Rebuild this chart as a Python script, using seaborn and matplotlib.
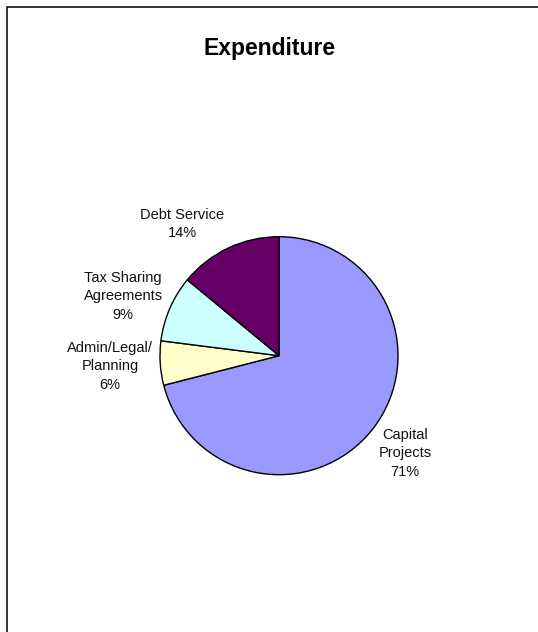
import matplotlib
matplotlib.use("Agg")
import matplotlib.pyplot as plt
import seaborn as sns
from matplotlib.patches import Rectangle

categories = ["Capital\nProjects", "Admin/Legal/\nPlanning", "Tax Sharing\nAgreements", "Debt Service"]
shares = [71, 6, 9, 14]
colors = ["#9999FF", "#FFFFCC", "#CCFFFF", "#660066"]

# label anchor points, in units of the pie radius
label_pos = [(1.06, -0.82), (-1.42, -0.09), (-1.31, 0.50), (-0.815, 1.107)]

sns.set_theme(style="white")
plt.rcParams["font.family"] = ["Liberation Sans", "DejaVu Sans"]

W, H = 538, 632
fig = plt.figure(figsize=(W / 100, H / 100), dpi=100)
fig.patch.set_facecolor("white")

# chart-area frame
fig.patches.append(Rectangle((7 / W, -0.05), 1.2, 1 - 7 / H + 0.05, transform=fig.transFigure,
                             fill=False, edgecolor="black", linewidth=1.1))

cx, cy, r = 279, 355.7, 119
ax = fig.add_axes([(cx - r) / W, (H - cy - r) / H, 2 * r / W, 2 * r / H])
ax.pie(shares, colors=colors, startangle=90, counterclock=False, radius=1,
       wedgeprops=dict(edgecolor="black", linewidth=1.0))
ax.set_xlim(-1, 1)
ax.set_ylim(-1, 1)
ax.set_aspect("equal")
ax.axis("off")

for name, val, (x, y) in zip(categories, shares, label_pos):
    ax.text(x, y, f"{name}\n{val}%", ha="center", va="center", fontsize=10.5,
            linespacing=1.42, color="#111111", clip_on=False)

fig.text(270 / W, 1 - 48 / H, "Expenditure", ha="center", va="center",
         fontsize=16.5, fontweight="bold", color="black")

fig.savefig("out.png", dpi=100)
